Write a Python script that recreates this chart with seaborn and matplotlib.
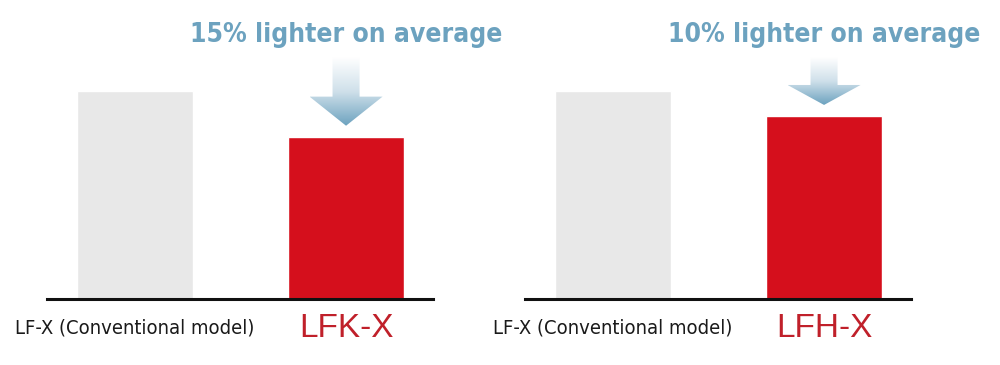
import numpy as np
import pandas as pd
import matplotlib
matplotlib.use("Agg")
import matplotlib.pyplot as plt
import seaborn as sns
from matplotlib.patches import Polygon
from matplotlib.colors import LinearSegmentedColormap

# ---- data ----
panel_titles = ["15% lighter on average", "10% lighter on average"]
conventional_label = "LF-X (Conventional model)"
new_labels = ["LFK-X", "LFH-X"]
conventional_values = [100, 100]
new_values = [78, 88]

GREY = "#e8e8e8"
RED = "#d50f1c"
LABEL_RED = "#c0202a"
BLUE = "#6ca2bf"

sns.set_theme(style="white")
plt.rcParams['font.family'] = ['DejaVu Sans']
plt.rcParams['font.stretch'] = 'condensed'

fig = plt.figure(figsize=(10, 3.65), dpi=100)
ax_w = 386 / 1000
ax_bottom = 66 / 365
ax_h = (208 * 1.4) / 365
lefts = [47 / 1000, 525 / 1000]

cmap = LinearSegmentedColormap.from_list("arr", ["#ffffff", "#cfe0ea", BLUE])

for i in range(2):
    ax = fig.add_axes([lefts[i], ax_bottom, ax_w, ax_h])
    df = pd.DataFrame({
        "model": [conventional_label, new_labels[i]],
        "value": [conventional_values[i], new_values[i]],
    })
    sns.barplot(data=df, x="model", y="value", hue="model",
                palette=[GREY, RED], width=0.55, legend=False, ax=ax,
                saturation=1)
    ax.set_xlim(-0.417, 1.412)
    ax.set_ylim(0, 140)
    ax.set_xlabel("")
    ax.set_ylabel("")
    ax.set_yticks([])
    for s in ["top", "left", "right"]:
        ax.spines[s].set_visible(False)
    ax.spines["bottom"].set_color("#111111")
    ax.spines["bottom"].set_linewidth(2.2)
    ax.tick_params(axis="x", length=0, pad=21)
    tl = ax.get_xticklabels()
    for t in tl:
        t.set_verticalalignment("center")
    tl[0].set_fontsize(14.5)
    tl[0].set_fontstretch('condensed')
    tl[0].set_color("#1a1a1a")
    tl[1].set_fontsize(24)
    tl[1].set_color(LABEL_RED)
    tl[1].set_family(['Liberation Sans', 'DejaVu Sans'])
    tl[1].set_fontstretch('normal')

    # gradient arrow above the new-model bar
    cx = 1
    tip = new_values[i] + 5.3
    head_len = 14 if i == 0 else 9.6
    head_base = tip + head_len
    shaft_top = 116.3
    sw = 0.064
    hw = 0.173
    verts = [(cx - sw, shaft_top), (cx + sw, shaft_top), (cx + sw, head_base),
             (cx + hw, head_base), (cx, tip), (cx - hw, head_base),
             (cx - sw, head_base)]
    poly = Polygon(verts, closed=True, facecolor="none", edgecolor="none",
                   transform=ax.transData)
    ax.add_patch(poly)
    grad = np.linspace(0, 1, 256).reshape(-1, 1)
    im = ax.imshow(grad, cmap=cmap, aspect="auto", origin="upper",
                   extent=[cx - hw, cx + hw, tip, shaft_top], zorder=3)
    im.set_clip_path(poly)

    ax.text(1, 126.9, panel_titles[i], ha="center", va="center",
            fontsize=19, fontweight="bold", fontstretch="condensed",
            color=BLUE, clip_on=False)

fig.savefig("out.png", dpi=100, facecolor="white")
